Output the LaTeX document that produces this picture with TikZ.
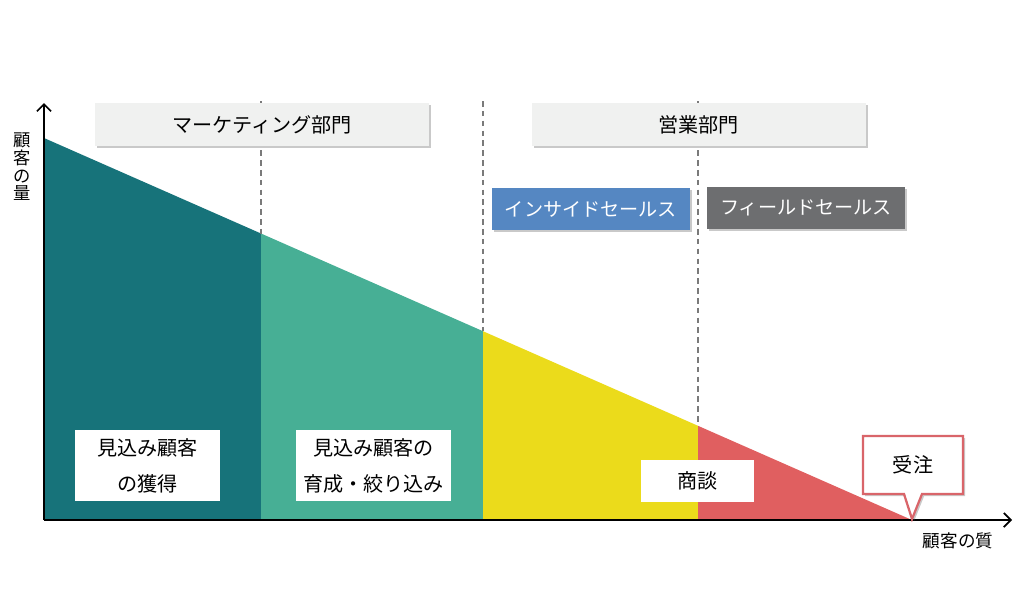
\documentclass[tikz,border=0pt]{standalone}
\usepackage{fontspec}
\setmainfont{Noto Sans CJK JP}
\usetikzlibrary{shadows,arrows.meta}
\definecolor{cteal}{HTML}{17737A}
\definecolor{cgreen}{HTML}{47AF95}
\definecolor{cyellow}{HTML}{EBDB1B}
\definecolor{cred}{HTML}{E05F60}
\definecolor{cblue}{HTML}{5587C2}
\definecolor{cgray}{HTML}{6D6E70}
\definecolor{clight}{HTML}{F0F1F0}
\definecolor{cborder}{HTML}{D9656A}
\definecolor{cdash}{HTML}{7A7A7A}
\begin{document}
\begin{tikzpicture}[x=0.025cm,y=-0.025cm,
  shad/.style={drop shadow={shadow xshift=1.5pt,shadow yshift=-1.5pt,opacity=0.3,fill=black!70}},
  dept/.style={fill=clight,minimum width=334*0.025cm,minimum height=43*0.025cm,inner sep=0pt,font=\fontsize{14.3}{17}\selectfont,shad},
  team/.style={minimum width=198*0.025cm,minimum height=42*0.025cm,inner sep=0pt,text=white,font=\fontsize{13.6}{17}\selectfont,shad},
  wbox/.style={fill=white,inner sep=0pt,align=center,font=\fontsize{14.3}{25.5}\selectfont},
  dline/.style={cdash,line width=1.1pt,dash pattern=on 4pt off 3pt},
  axis/.style={line width=1.2pt,-{Straight Barb[length=5pt,width=10pt,line width=1.2pt]}},
  alabel/.style={font=\fontsize{12.5}{13.5}\selectfont}
]
\useasboundingbox (0,0) rectangle (1024,601);
% regions
\fill[cteal] (44,520) -- (44,138) -- (261,233.5) -- (261,520) -- cycle;
\fill[cgreen] (261,520) -- (261,233.5) -- (483,331.2) -- (483,520) -- cycle;
\fill[cyellow] (483,520) -- (483,331.2) -- (698,425.8) -- (698,520) -- cycle;
\fill[cred] (698,520) -- (698,425.8) -- (912,520) -- cycle;
% dashed dividers
\coordinate (d1t) at (261,101); \coordinate (d1b) at (261,233.5);
\coordinate (d2t) at (483,101); \coordinate (d2b) at (483,331.2);
\coordinate (d3t) at (698,101); \coordinate (d3b) at (698,425.8);
\draw[dline] (d1t) -- (d1b);
\draw[dline] (d2t) -- (d2b);
\draw[dline] (d3t) -- (d3b);
% axes
\coordinate (o) at (44,520);
\coordinate (ytop) at (44,103);
\coordinate (xend) at (1012,520);
\draw[axis] (o) -- (ytop);
\draw[axis] (o) -- (xend);
\node[alabel,align=center,inner sep=0pt,font=\fontsize{12.3}{12.6}\selectfont] (ylab) at (22,167) {顧\\客\\の\\量};
\node[alabel,inner sep=0pt] (xlab) at (958,541) {顧客の質};
% department boxes
\node[dept] (mkt) at (262,124.5) {マーケティング部門};
\node[dept] (sales) at (698.5,124.5) {営業部門};
\node[team,fill=cblue] (is) at (591,209) {インサイドセールス};
\node[team,fill=cgray] (fs) at (806,208) {フィールドセールス};
% stage labels
\node[wbox,minimum width=145*0.025cm,minimum height=71*0.025cm] (s1) at (147.5,465.5) {見込み顧客\\の獲得};
\node[wbox,minimum width=155*0.025cm,minimum height=71*0.025cm] (s2) at (373.5,465.5) {見込み顧客の\\育成・絞り込み};
\node[wbox,minimum width=113*0.025cm,minimum height=42*0.025cm] (s3) at (697.5,481) {商談};
% callout
\draw[cborder,line width=1.6pt,fill=white,shad] (863,436) -- (963,436) -- (963,494) -- (922,494) -- (912,519) -- (904,494) -- (863,494) -- cycle;
\node[font=\fontsize{14.3}{17}\selectfont,inner sep=0pt] (order) at (913,465) {受注};
\end{tikzpicture}
\end{document}
